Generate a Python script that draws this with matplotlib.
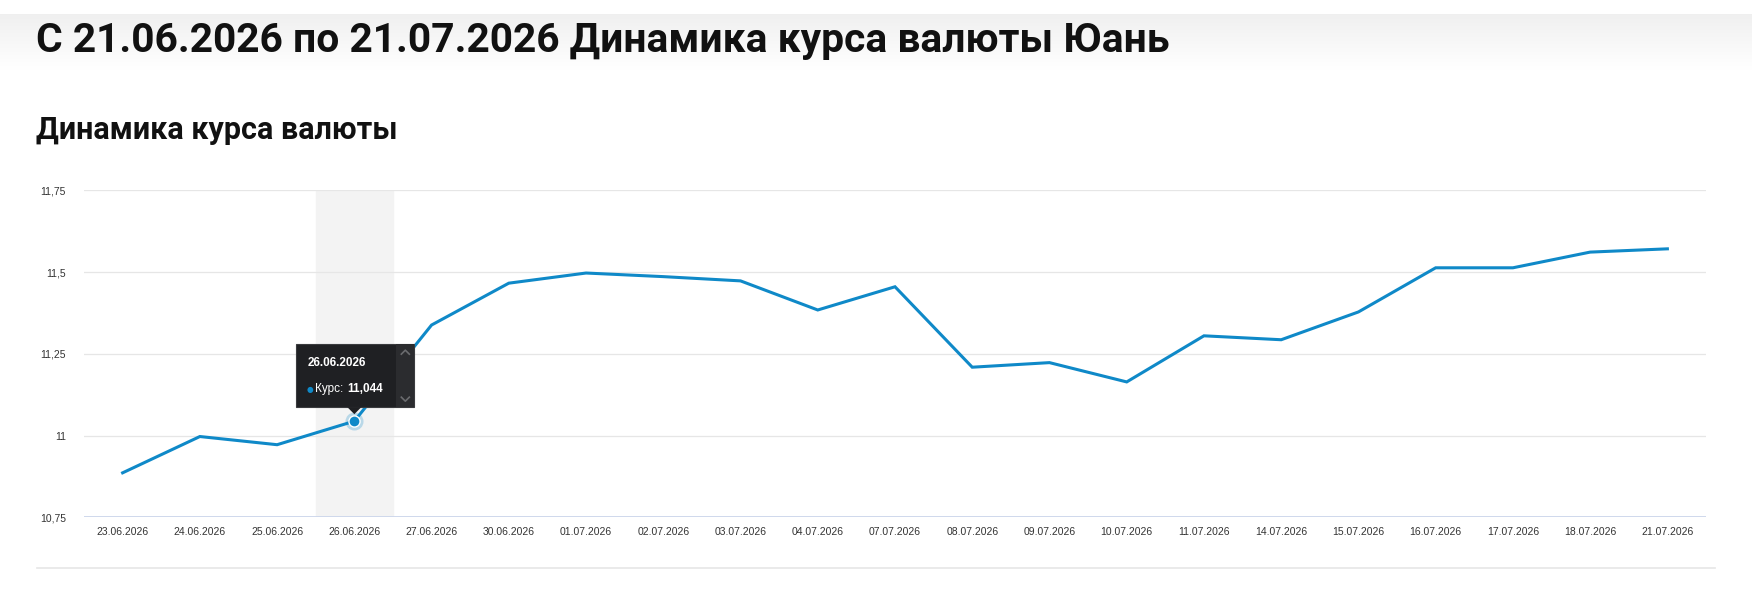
import numpy as np
import matplotlib.pyplot as plt
from matplotlib.patches import Rectangle, Polygon

dates = ["23.06.2026", "24.06.2026", "25.06.2026", "26.06.2026", "27.06.2026",
         "30.06.2026", "01.07.2026", "02.07.2026", "03.07.2026", "04.07.2026",
         "07.07.2026", "08.07.2026", "09.07.2026", "10.07.2026", "11.07.2026",
         "14.07.2026", "15.07.2026", "16.07.2026", "17.07.2026", "18.07.2026",
         "21.07.2026"]
rates = [10.886, 10.997, 10.972, 11.044, 11.338, 11.466, 11.497, 11.486, 11.473,
         11.384, 11.455, 11.209, 11.223, 11.164, 11.305, 11.293, 11.378, 11.513,
         11.513, 11.561, 11.571]
yticks = [10.75, 11, 11.25, 11.5, 11.75]
ytick_labels = ["10,75", "11", "11,25", "11,5", "11,75"]
hover_idx = 3

W, H = 1752, 609
fig = plt.figure(figsize=(W / 100, H / 100), dpi=100)
fig.patch.set_facecolor("white")

def fx(px):
    return px / W

def fy(py):
    return 1 - py / H

# header shadow
sh = fig.add_axes([0, fy(70), 1, fy(14) - fy(70)])
grad = np.linspace(0.94, 1.0, 100).reshape(-1, 1)
sh.imshow(np.dstack([grad, grad, grad]), aspect="auto", extent=(0, 1, 0, 1), origin="upper")
sh.axis("off")

fig.text(fx(36), fy(41), "С 21.06.2026 по 21.07.2026 Динамика курса валюты Юань",
         fontsize=29.3, fontweight="bold", family="Roboto", color="#111111", va="center")
fig.text(fx(36), fy(130), "Динамика курса валюты",
         fontsize=22, fontweight="bold", family="Roboto", color="#111111", va="center")

ax = fig.add_axes([fx(84), fy(517.3), fx(1706) - fx(84), fy(190.3) - fy(517.3)])
x = np.arange(len(dates))
ax.set_xlim(-0.5, len(dates) - 0.5)
ax.set_ylim(10.75, 11.75)

ax.axvspan(hover_idx - 0.5, hover_idx + 0.5, color="#f3f3f3", zorder=0)
for t in yticks[1:]:
    ax.axhline(t, color="#e6e6e6", lw=0.9, zorder=1)
ax.axhline(yticks[0], color="#ccd6eb", lw=1.3, zorder=1)

ax.plot(x, rates, color="#0f89c8", lw=2.2, solid_joinstyle="miter", zorder=3)
ax.plot(x[hover_idx], rates[hover_idx], "o", ms=13, color="#0f89c8", alpha=0.25,
        mec="none", zorder=4)
ax.plot(x[hover_idx], rates[hover_idx], "o", ms=8, color="#0f89c8", mec="white",
        mew=1, zorder=5)

ax.set_xticks(x)
ax.set_xticklabels(dates, fontsize=7.5, family="Liberation Sans", color="#333333")
ax.set_yticks(yticks)
ax.set_yticklabels(ytick_labels, fontsize=7.5, family="Liberation Sans", color="#333333")
ax.tick_params(length=0, pad=7)
ax.tick_params(axis="y", pad=13)
for s in ax.spines.values():
    s.set_visible(False)

# tooltip
fig.canvas.draw()
px, py = ax.transData.transform((x[hover_idx], rates[hover_idx]))
py = H - py
box_l, box_r, box_t, box_b = px - 58, px + 60, py - 77, py - 14
fig.add_artist(Rectangle((fx(box_l), fy(box_b)), fx(box_r - box_l), (box_b - box_t) / H,
                         transform=fig.transFigure, facecolor="#1f2023",
                         edgecolor="#3a3b3e", lw=0.8, zorder=10))
fig.add_artist(Rectangle((fx(box_r - 18), fy(box_b)), fx(18), (box_b - box_t) / H,
                         transform=fig.transFigure, facecolor="#2b2c2f",
                         edgecolor="none", zorder=11))
fig.add_artist(Polygon([(fx(px - 7), fy(box_b)), (fx(px + 7), fy(box_b)), (fx(px), fy(box_b + 7))],
                       transform=fig.transFigure, facecolor="#1f2023", edgecolor="none", zorder=11))
cx = box_r - 9
for yc, d in [(box_t + 8, -1), (box_b - 8, 1)]:
    fig.add_artist(plt.Line2D([fx(cx - 4), fx(cx), fx(cx + 4)],
                              [fy(yc - 2 * d), fy(yc + 2 * d), fy(yc - 2 * d)],
                              color="#6a6b6e", lw=1.2, transform=fig.transFigure, zorder=12))
fig.text(fx(box_l + 11), fy(box_t + 19), dates[hover_idx], color="white", fontsize=8.5,
         fontweight="bold", family="Liberation Sans", va="center", zorder=12)
fig.text(fx(box_l + 10), fy(box_t + 45), "●", color="#0f89c8", fontsize=5.5,
         va="center", zorder=12, family="DejaVu Sans")
t1 = fig.text(fx(box_l + 19), fy(box_t + 45), "Курс: ", color="white", fontsize=8.5,
              family="Liberation Sans", va="center", zorder=12)
fig.canvas.draw()
bb = t1.get_window_extent()
fig.text(bb.x1 / W, fy(box_t + 45), f"{rates[hover_idx]:.3f}".replace(".", ","),
         color="white", fontsize=8.5, fontweight="bold", family="Liberation Sans",
         va="center", zorder=12)

# bottom separator
fig.add_artist(plt.Line2D([fx(37), fx(1715)], [fy(568), fy(568)], color="#e6e6e6", lw=1.2,
                          transform=fig.transFigure))

fig.savefig("out.png", dpi=100)
